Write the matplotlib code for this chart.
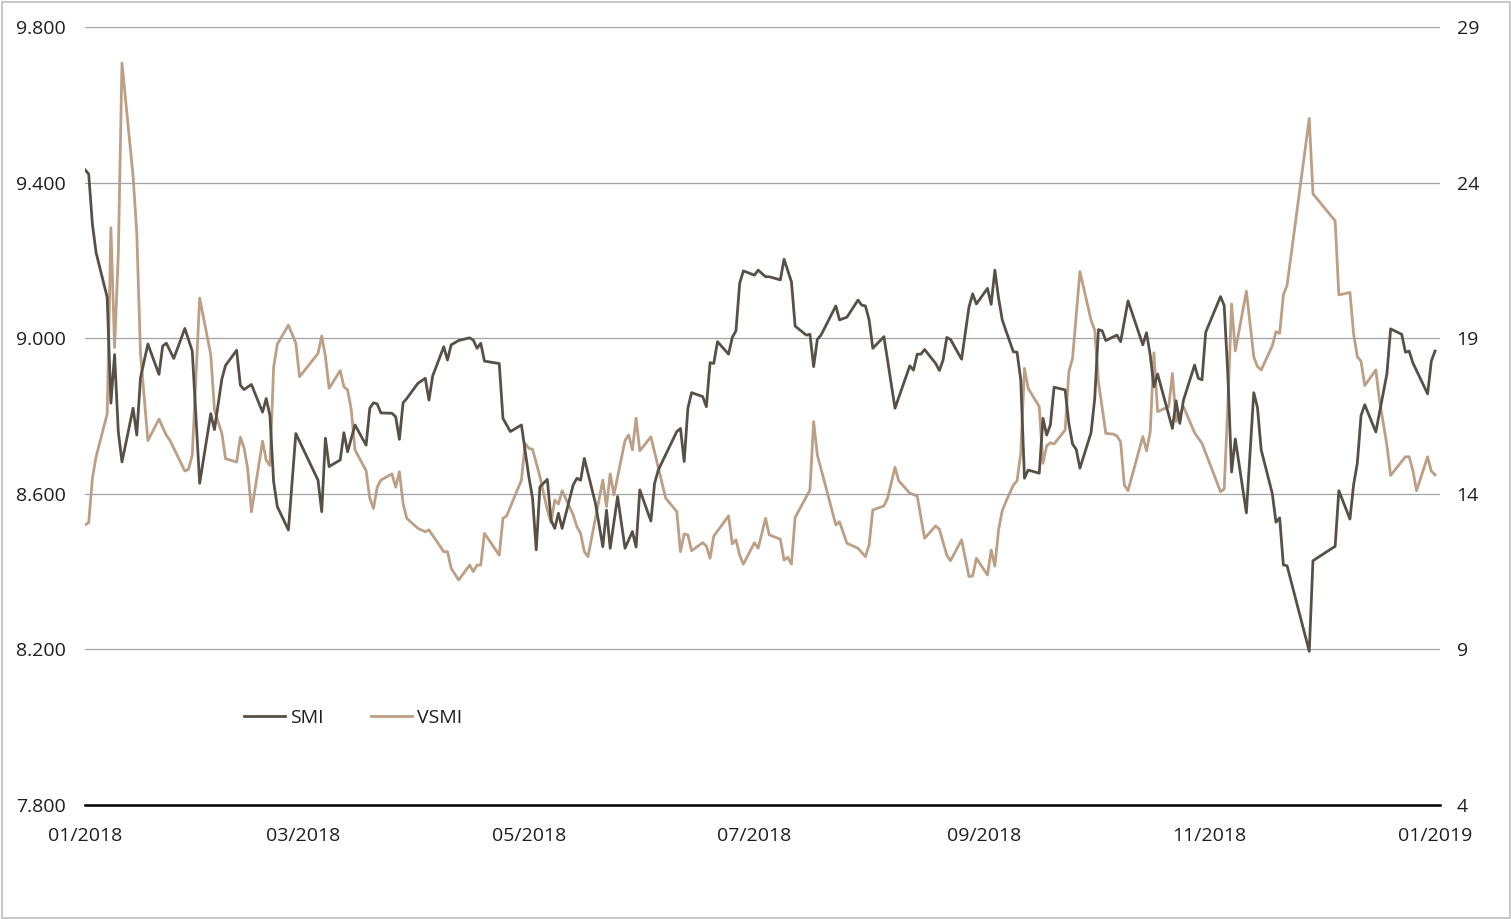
import numpy as np
import pandas as pd
import matplotlib
matplotlib.use('Agg')
import matplotlib.pyplot as plt
import matplotlib.dates as mdates
from matplotlib.ticker import FuncFormatter
from matplotlib.patches import Rectangle

plt.rcParams['font.family'] = ['Open Sans', 'DejaVu Sans']

# days counted from 2018-01-01
smi_day = [0, 1, 2, 3, 6, 7, 8, 9, 10, 13, 14, 15, 17, 20, 21, 22, 24, 27, 29, 31,
           34, 35, 37, 38, 41, 42, 43, 45, 48, 49, 50, 51, 52, 55, 57, 63, 64, 65, 66, 69,
           70, 71, 73, 76, 77, 78, 79, 80, 83, 84, 85, 86, 87, 90, 92, 93, 94, 97, 98, 99,
           101, 104, 105, 106, 107, 108, 112, 113, 115, 118, 120, 121, 122, 123, 125, 126, 127, 128, 129, 132,
           133, 134, 135, 138, 140, 141, 142, 144, 146, 148, 149, 150, 153, 154, 155, 160, 161, 162, 163, 164,
           167, 168, 169, 170, 171, 174, 175, 176, 177, 178, 181, 182, 184, 185, 188, 189, 191, 192, 195, 196,
           197, 198, 199, 203, 204, 206, 209, 210, 211, 212, 213, 216, 219, 223, 224, 225, 226, 227, 230, 231,
           232, 233, 234, 237, 239, 240, 241, 244, 245, 246, 247, 248, 249, 251, 252, 253, 254, 255, 258, 259,
           260, 261, 262, 265, 266, 267, 268, 269, 272, 273, 274, 275, 276, 279, 280, 282, 286, 287, 288, 289,
           290, 294, 295, 296, 297, 300, 301, 302, 303, 307, 308, 309, 310, 311, 314, 316, 317, 318, 321, 322,
           323, 324, 325, 331, 332, 338, 339, 342, 343, 344, 345, 346, 349, 352, 353, 356, 357, 358, 359, 363,
           364, 365]
smi_val = [9433, 9422, 9293, 9220, 9105, 8833, 8958, 8760, 8682, 8820, 8751, 8898, 8985, 8907, 8980, 8987, 8948, 9025, 8967, 8627,
           8806, 8765, 8895, 8930, 8969, 8879, 8868, 8881, 8810, 8845, 8801, 8631, 8567, 8507, 8755, 8635, 8554, 8743, 8670, 8687,
           8757, 8708, 8777, 8725, 8820, 8834, 8831, 8808, 8807, 8798, 8740, 8834, 8845, 8884, 8897, 8841, 8903, 8978, 8944, 8983,
           8994, 9001, 8995, 8974, 8987, 8941, 8935, 8794, 8760, 8777, 8644, 8589, 8456, 8618, 8637, 8533, 8511, 8550, 8511, 8623,
           8640, 8635, 8691, 8576, 8464, 8558, 8460, 8593, 8460, 8503, 8463, 8610, 8530, 8627, 8661, 8760, 8768, 8683, 8820, 8860,
           8850, 8824, 8937, 8935, 8991, 8959, 9002, 9019, 9141, 9173, 9162, 9175, 9158, 9158, 9150, 9203, 9145, 9031, 9008, 9010,
           8927, 8997, 9008, 9083, 9047, 9054, 9098, 9085, 9083, 9047, 8974, 9004, 8820, 8929, 8918, 8959, 8959, 8971, 8935, 8917,
           8944, 9002, 8997, 8946, 9080, 9114, 9088, 9128, 9087, 9175, 9103, 9047, 9019, 8965, 8964, 8893, 8640, 8661, 8653, 8794,
           8751, 8777, 8874, 8867, 8781, 8728, 8714, 8666, 8757, 8845, 9022, 9019, 8994, 9008, 8991, 9096, 8983, 9014, 8957, 8875,
           8908, 8768, 8839, 8781, 8841, 8931, 8897, 8893, 9015, 9107, 9084, 8904, 8656, 8741, 8551, 8860, 8822, 8713, 8601, 8527,
           8538, 8417, 8415, 8195, 8428, 8465, 8608, 8535, 8624, 8679, 8801, 8829, 8759, 8909, 9024, 9010, 8964, 8967, 8937, 8857,
           8941, 8967]

vsmi_day = [0, 1, 2, 3, 6, 7, 8, 9, 10, 13, 14, 15, 17, 20, 22, 23, 27, 28, 29, 31,
            34, 35, 37, 38, 41, 42, 43, 44, 45, 48, 49, 50, 51, 52, 55, 57, 58, 63, 64, 65,
            66, 69, 70, 71, 72, 73, 76, 77, 78, 79, 80, 83, 84, 85, 86, 87, 90, 92, 93, 97,
            98, 99, 101, 104, 105, 106, 107, 108, 112, 113, 114, 118, 119, 120, 121, 123, 125, 126, 127, 128,
            129, 132, 133, 134, 135, 136, 140, 141, 142, 143, 146, 147, 148, 149, 150, 153, 157, 160, 161, 162,
            163, 164, 167, 168, 169, 170, 174, 175, 176, 177, 178, 181, 182, 184, 185, 188, 189, 190, 191, 192,
            196, 197, 198, 203, 204, 206, 209, 211, 212, 213, 216, 217, 219, 220, 223, 225, 227, 230, 231, 233,
            234, 237, 239, 240, 241, 244, 245, 246, 247, 248, 249, 251, 252, 253, 254, 255, 258, 259, 260, 261,
            262, 265, 266, 267, 269, 272, 273, 274, 276, 278, 279, 280, 281, 282, 286, 287, 288, 289, 290, 293,
            294, 295, 297, 300, 302, 307, 308, 309, 310, 311, 314, 316, 317, 318, 321, 322, 323, 324, 325, 331,
            332, 338, 339, 342, 343, 344, 345, 346, 349, 350, 352, 353, 357, 358, 359, 360, 363, 364, 365]
vsmi_val = [13.0, 13.07, 14.5, 15.19, 16.57, 22.55, 18.7, 21.69, 27.84, 24.2, 22.38, 18.52, 15.71, 16.4, 15.88, 15.71, 14.73, 14.79, 15.25, 20.29,
            18.47, 16.69, 15.94, 15.13, 15.02, 15.82, 15.48, 14.79, 13.42, 15.69, 15.08, 14.91, 18.07, 18.81, 19.42, 18.84, 17.76, 18.51, 19.07, 18.41,
            17.39, 17.96, 17.44, 17.34, 16.69, 15.41, 14.74, 13.86, 13.53, 14.21, 14.44, 14.64, 14.21, 14.71, 13.69, 13.21, 12.89, 12.78, 12.84, 12.14,
            12.14, 11.61, 11.23, 11.71, 11.5, 11.71, 11.71, 12.73, 12.03, 13.21, 13.29, 14.44, 15.62, 15.46, 15.43, 14.55, 13.48, 13.07, 13.8, 13.67,
            14.1, 13.32, 12.94, 12.73, 12.14, 11.98, 14.44, 13.59, 14.64, 13.96, 15.71, 15.89, 15.41, 16.43, 15.38, 15.83, 13.86, 13.43, 12.14, 12.71,
            12.68, 12.17, 12.43, 12.32, 11.93, 12.64, 13.29, 12.39, 12.52, 12.03, 11.74, 12.43, 12.25, 13.21, 12.68, 12.54, 11.87, 11.96, 11.74, 13.24,
            14.12, 16.32, 15.25, 13.0, 13.1, 12.41, 12.25, 11.98, 12.36, 13.48, 13.61, 13.86, 14.85, 14.42, 14.02, 13.93, 12.57, 12.97, 12.86, 12.03,
            11.85, 12.52, 11.34, 11.36, 11.93, 11.39, 12.19, 11.68, 12.84, 13.46, 13.75, 14.28, 14.42, 15.3, 18.03, 17.39, 16.8, 14.98, 15.54, 15.64,
            15.6, 16.05, 17.92, 18.35, 21.14, 19.58, 19.26, 17.6, 15.94, 15.92, 15.86, 15.67, 14.28, 14.1, 15.84, 15.38, 15.99, 18.53, 16.64, 16.8,
            17.87, 16.32, 16.8, 15.96, 15.62, 14.07, 14.15, 16.89, 20.1, 18.59, 20.51, 18.4, 18.09, 17.98, 18.75, 19.21, 19.16, 20.39, 20.7, 26.06,
            23.64, 22.77, 20.39, 20.47, 19.13, 18.4, 18.26, 17.48, 17.98, 17.0, 15.56, 14.59, 15.19, 15.19, 14.76, 14.1, 15.19, 14.73, 14.61]

left_ticks = [7800, 8200, 8600, 9000, 9400, 9800]
right_ticks = [4, 9, 14, 19, 24, 29]

smi_color = '#575047'
vsmi_color = '#bc9f85'
text_color = '#1e1e1e'
fs = 14

start = pd.Timestamp('2018-01-01')
smi_dates = start + pd.to_timedelta(smi_day, unit='D')
vsmi_dates = start + pd.to_timedelta(vsmi_day, unit='D')

fig = plt.figure(figsize=(15.11, 9.19), dpi=100)
ax = fig.add_axes([85 / 1511, 1 - 805 / 919, (1440 - 85) / 1511, (805 - 27) / 919])
ax2 = ax.twinx()

l1, = ax.plot(smi_dates, smi_val, color=smi_color, lw=2.0, label='SMI', zorder=3)
l2, = ax2.plot(vsmi_dates, vsmi_val, color=vsmi_color, lw=2.0, label='VSMI', zorder=2)

ax.set_ylim(7800, 9800)
ax.set_yticks(left_ticks)
ax.yaxis.set_major_formatter(FuncFormatter(lambda v, p: f'{v:,.0f}'.replace(',', '.')))
ax2.set_ylim(4, 29)
ax2.set_yticks(right_ticks)

ax.set_xlim(start, start + pd.Timedelta(days=366.35))
ax.xaxis.set_major_locator(mdates.MonthLocator(bymonth=[1, 3, 5, 7, 9, 11]))
ax.xaxis.set_major_formatter(mdates.DateFormatter('%m/%Y'))

ax.grid(axis='y', color='#a3a3a3', lw=0.9)
ax.set_axisbelow(True)
for a in (ax, ax2):
    for s in a.spines.values():
        s.set_visible(False)
ax.spines['bottom'].set_visible(True)
ax.spines['bottom'].set_color('black')
ax.spines['bottom'].set_linewidth(1.8)
ax.spines['bottom'].set_zorder(5)

ax.tick_params(axis='y', length=0, pad=14, labelsize=fs, labelcolor=text_color)
ax.tick_params(axis='x', length=0, pad=16, labelsize=fs, labelcolor=text_color)
ax2.tick_params(axis='y', length=0, pad=12, labelsize=fs, labelcolor=text_color)

ax.set_zorder(ax2.get_zorder() + 1)
ax.patch.set_visible(False)

fig.legend([l1, l2], ['SMI', 'VSMI'], loc='center left', ncol=2, frameon=False,
           bbox_to_anchor=(244 / 1511, 1 - 718 / 919), borderpad=0, borderaxespad=0,
           handlelength=2.1, handletextpad=0.25, columnspacing=2.45, fontsize=fs,
           labelcolor=text_color)

fig.patches.append(Rectangle((1.5 / 1511, 1.5 / 919), 1 - 3 / 1511, 1 - 3 / 919,
                             transform=fig.transFigure, fill=False,
                             edgecolor='#bdbdbd', lw=1.2))

fig.savefig('out.png', dpi=100, facecolor='white')
